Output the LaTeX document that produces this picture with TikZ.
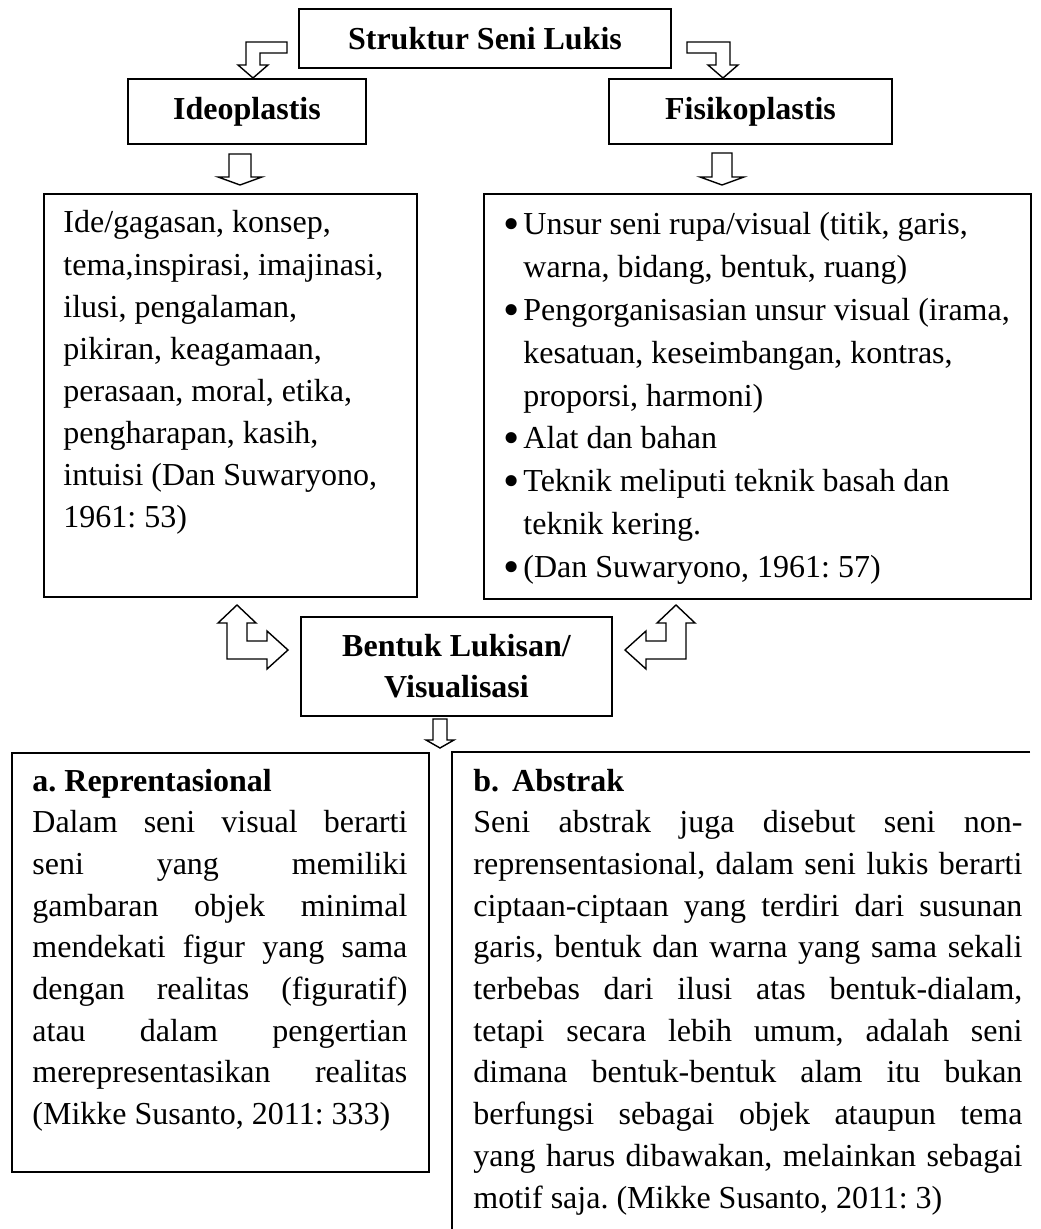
\documentclass[tikz,border=0pt]{standalone}
\usepackage{fontspec}
\setmainfont{Liberation Serif}
\usetikzlibrary{positioning,calc}
\hbadness=10000
\frenchspacing

\tikzset{
  panel/.style={draw, line width=0.9pt, inner sep=0pt},
  title/.style={panel, font=\fontsize{16}{20.5}\selectfont\bfseries, align=center},
  body/.style={inner sep=0pt, anchor=base west},
  blk/.style={draw, line width=0.7pt, line join=miter, fill=white},
}
% one printed line of a text block
\newcommand{\jline}[1]{\hbox to \hsize{#1}}
\newcommand{\pline}[1]{\hbox{#1}}
\newcommand{\bline}[1]{\hbox{\makebox[9pt][l]{\hspace*{-1pt}\raisebox{-2.5pt}{\scalebox{1.45}{\textbullet}}}#1}}
\newcommand{\iline}[1]{\hbox{\hspace*{9pt}#1}}

\begin{document}
\begin{tikzpicture}[x=0.5pt, y=-0.5pt]
\useasboundingbox (0,0) rectangle (1040,1229);

% title boxes
\node[title, minimum width=186pt, minimum height=29.5pt] (struktur) at (485,38.5) {Struktur Seni Lukis};
\node[title, minimum width=119pt, minimum height=32.5pt] (ideo) at (247,111.5) {Ideoplastis};
\node[title, minimum width=141.5pt, minimum height=32.5pt] (fisiko) at (750.5,111.5) {Fisikoplastis};
\node[title, minimum width=155.5pt, minimum height=49.5pt] (bentuk) at (456.5,666.5) {Bentuk Lukisan/\\Visualisasi};

% content boxes
\node[panel, minimum width=186.5pt, minimum height=201.5pt, anchor=north west] (ideobox) at (43,193) {};
\node[panel, minimum width=273.5pt, minimum height=202.5pt, anchor=north west] (fisikobox) at (483,193) {};
\node[panel, minimum width=208.5pt, minimum height=209.5pt, anchor=north west] (reprbox) at (11,752) {};
\coordinate (abscorner) at (452,752);
\draw[line width=0.9pt] (1030,752) -- (abscorner) -- (452,1230);

% texts
\node[body, font=\fontsize{16}{21.05}\selectfont] (ideotext) at (63,233) {\vtop{%
\pline{Ide/gagasan, konsep,}
\pline{tema,inspirasi, imajinasi,}
\pline{ilusi, pengalaman,}
\pline{pikiran, keagamaan,}
\pline{perasaan, moral, etika,}
\pline{pengharapan, kasih,}
\pline{intuisi (Dan Suwaryono,}
\pline{1961: 53)}}};

\node[body, font=\fontsize{16}{21.4}\selectfont] (fisikotext) at (505,235) {\vtop{%
\bline{Unsur seni rupa/visual (titik, garis,}
\iline{warna, bidang, bentuk, ruang)}
\bline{Pengorganisasian unsur visual (irama,}
\iline{kesatuan, keseimbangan, kontras,}
\iline{proporsi, harmoni)}
\bline{Alat dan bahan}
\bline{Teknik meliputi teknik basah dan}
\iline{teknik kering.}
\bline{(Dan Suwaryono, 1961: 57)}}};

\node[body, font=\fontsize{16}{20.85}\selectfont] (reprtext) at (32,791) {\vtop{\hsize=187.5pt
\pline{\bfseries a. Reprentasional}
\jline{Dalam seni visual berarti}
\jline{seni yang memiliki}
\jline{gambaran objek minimal}
\jline{mendekati figur yang sama}
\jline{dengan realitas (figuratif)}
\jline{atau dalam pengertian}
\jline{merepresentasikan realitas}
\pline{(Mikke Susanto, 2011: 333)}}};

\node[body, font=\fontsize{16}{20.85}\selectfont] (abstext) at (473,791) {\vtop{\hsize=274.5pt
\pline{\bfseries b.\hspace{6.5pt}Abstrak}
\jline{Seni abstrak juga disebut seni non-}
\jline{reprensentasional, dalam seni lukis berarti}
\jline{ciptaan-ciptaan yang terdiri dari susunan}
\jline{garis, bentuk dan warna yang sama sekali}
\jline{terbebas dari ilusi atas bentuk-dialam,}
\jline{tetapi secara lebih umum, adalah seni}
\jline{dimana bentuk-bentuk alam itu bukan}
\jline{berfungsi sebagai objek ataupun tema}
\jline{yang harus dibawakan, melainkan sebagai}
\pline{motif saja. (Mikke Susanto, 2011: 3)}}};

% bent arrows out of the title
\draw[blk] (287,42) -- (246,42) -- (246,65) -- (238,65) -- (253,78) -- (268,65) -- (260,65) -- (260,53) -- (287,53) -- cycle;
\draw[blk] (687,42) -- (730,42) -- (730,65) -- (738,65) -- (723,78) -- (708,65) -- (716,65) -- (716,53) -- (687,53) -- cycle;

% straight arrows down
\draw[blk] (229,154) -- (251,154) -- (251,177) -- (262,177) -- (240,185) -- (218,177) -- (229,177) -- cycle;
\draw[blk] (712,153) -- (732,153) -- (732,177) -- (744,177) -- (722,185) -- (700,177) -- (712,177) -- cycle;
\draw[blk] (433,719) -- (447,719) -- (447,740) -- (454,740) -- (440,748) -- (426,740) -- (433,740) -- cycle;

% two-way bent arrows beside Bentuk Lukisan
\draw[blk] (237,605) -- (256,623) -- (247,623) -- (247,641) -- (267,641) -- (267,631) -- (288,650) -- (267,669) -- (267,659) -- (227,659) -- (227,623) -- (218,623) -- cycle;
\draw[blk] (676,605) -- (695,623) -- (686,623) -- (686,659) -- (646,659) -- (646,669) -- (625,650) -- (646,631) -- (646,641) -- (666,641) -- (666,623) -- (657,623) -- cycle;
\end{tikzpicture}
\end{document}
